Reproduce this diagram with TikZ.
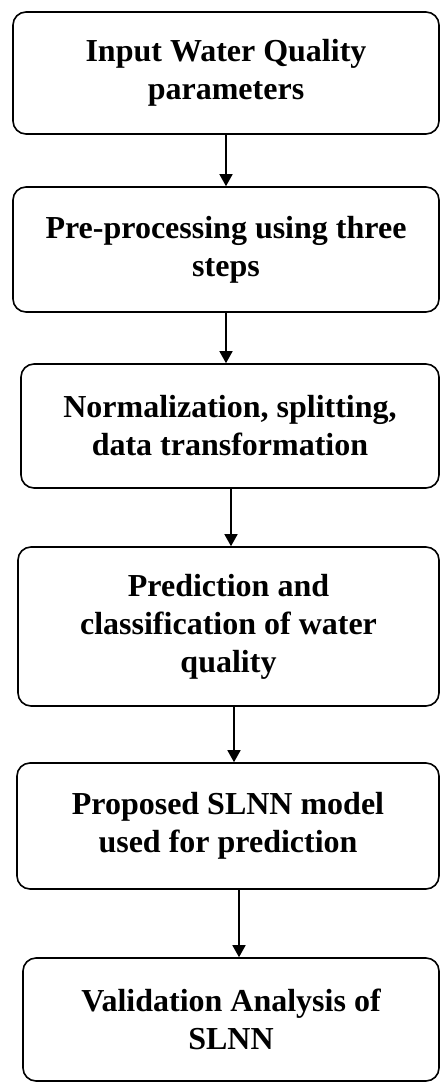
\documentclass[tikz,border=0pt]{standalone}
\usepackage{fontspec}
\setmainfont{Liberation Serif}
\usetikzlibrary{arrows.meta}
\begin{document}
\begin{tikzpicture}[x=1pt,y=-1pt,
  box/.style={draw=black, line width=1.6pt, rounded corners=13pt, align=center,
    font=\fontsize{32}{38}\selectfont\bfseries, inner sep=0pt},
  arr/.style={line width=1.5pt, -{Triangle[length=12pt,width=13pt]}}]
\useasboundingbox (0,0) rectangle (440,1083);
\fill[white] (0,0) rectangle (440,1083);
\node[box, minimum width=426pt, minimum height=122pt] (b1) at (226,73) {Input Water Quality\\parameters};
\node[box, minimum width=426pt, minimum height=125pt] (b2) at (226,249.5) {Pre-processing using three\\steps};
\node[box, minimum width=418pt, minimum height=124pt] (b3) at (230,426) {Normalization, splitting,\\data transformation};
\node[box, minimum width=421pt, minimum height=159pt] (b4) at (228.5,626.5) {Prediction and\\classification of water\\quality};
\node[box, minimum width=422pt, minimum height=126pt] (b5) at (228,826) {Proposed SLNN model\\used for prediction};
\node[box, minimum width=416pt, minimum height=123pt] (b6) at (231,1019.5) {Validation Analysis of\\SLNN};
\draw[arr] (b1.south) -- (b2.north);
\draw[arr] (b2.south) -- (b3.north -| b2.south);
\draw[arr] ([xshift=1pt]b3.south) -- ([xshift=2.5pt]b4.north);
\draw[arr] ([xshift=5.5pt]b4.south) -- ([xshift=6pt]b5.north);
\draw[arr] ([xshift=11pt]b5.south) -- ([xshift=8pt]b6.north);
\end{tikzpicture}
\end{document}
